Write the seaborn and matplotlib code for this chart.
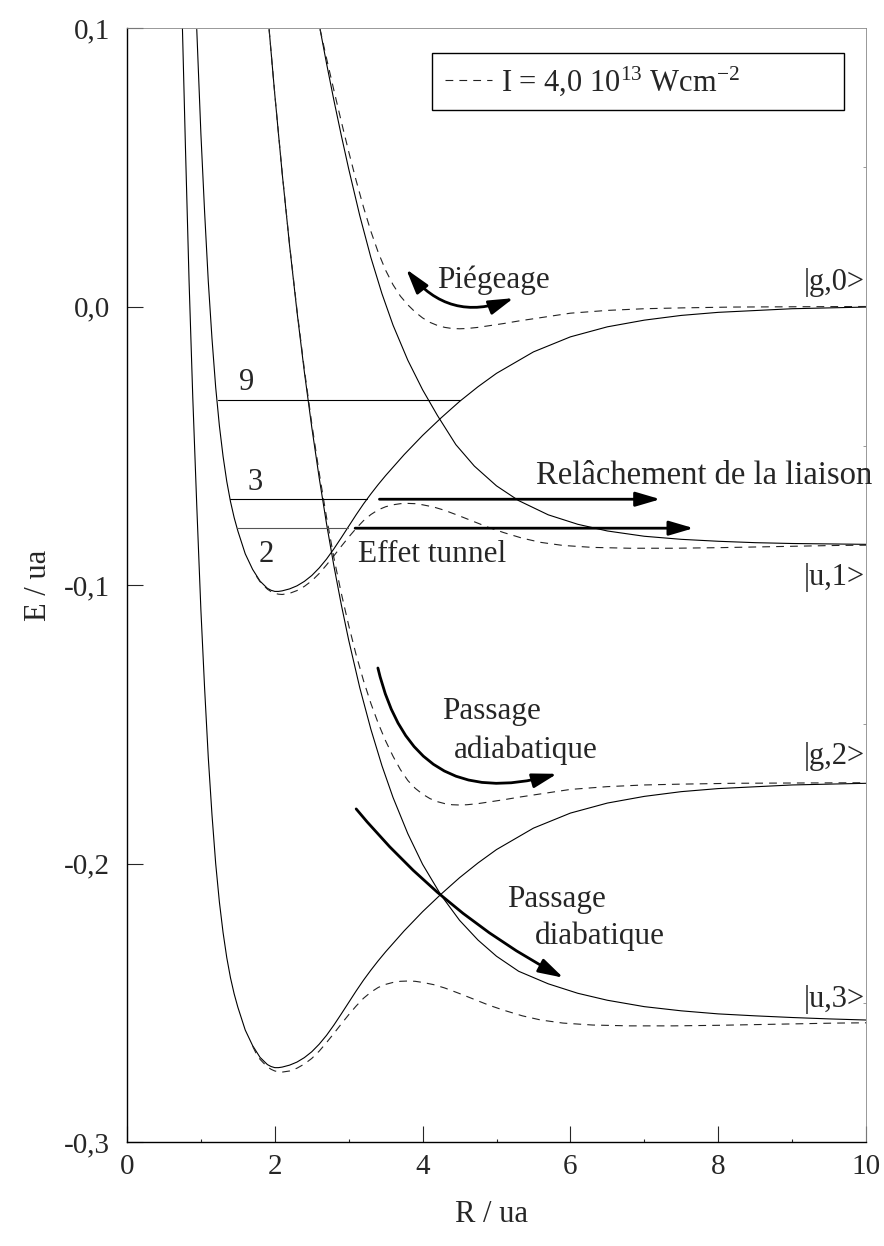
import matplotlib
matplotlib.use('Agg')
import matplotlib.pyplot as plt
from matplotlib.lines import Line2D
from matplotlib.ticker import FixedLocator, MultipleLocator
import seaborn as sns

# diabatic (photon-dressed) curves
R_g0 = [0.944, 0.97, 1.00, 1.05, 1.10, 1.15, 1.20, 1.25, 1.30, 1.35, 1.40, 1.45, 1.50, 1.60, 1.70, 1.80,
        1.90, 1.95, 2.00, 2.05, 2.10, 2.20, 2.30, 2.40, 2.50, 2.60, 2.70, 2.80, 2.90, 3.00, 3.10, 3.20,
        3.30, 3.40, 3.50, 3.75, 4.00, 4.25, 4.50, 4.75, 5.00, 5.50, 6.00, 6.50, 7.00, 7.50, 8.00, 9.00, 10.0]
E_g0 = [0.0995, 0.082, 0.062, 0.034, 0.009, -0.0115, -0.0290, -0.0428, -0.0538, -0.0628, -0.0700, -0.0758,
        -0.0806, -0.0888, -0.0944, -0.0986, -0.1012, -0.1019, -0.1023, -0.1023, -0.1021, -0.1014, -0.1003,
        -0.0987, -0.0966, -0.0939, -0.0907, -0.0870, -0.0830, -0.0789, -0.0748, -0.0709, -0.0673, -0.0639,
        -0.0607, -0.0532, -0.0463, -0.0400, -0.0341, -0.0288, -0.0240, -0.0163, -0.0109, -0.0073, -0.0049,
        -0.0032, -0.0021, -0.0008, -0.0002]

R_g2 = [0.75, 0.79, 0.84, 0.89, 0.944, 0.97, 1.00, 1.05, 1.10, 1.15, 1.20, 1.25, 1.30, 1.35, 1.40, 1.45,
        1.50, 1.60, 1.70, 1.80, 1.90, 1.95, 2.00, 2.05, 2.10, 2.20, 2.30, 2.40, 2.50, 2.60, 2.70, 2.80,
        2.90, 3.00, 3.10, 3.20, 3.30, 3.40, 3.50, 3.75, 4.00, 4.25, 4.50, 4.75, 5.00, 5.50, 6.00, 6.50,
        7.00, 7.50, 8.00, 9.00, 10.0]
E_g2 = [0.1000, 0.0580, 0.0090, -0.0326, -0.0715, -0.0890, -0.1090, -0.1370, -0.1620, -0.1825, -0.2000,
        -0.2138, -0.2248, -0.2338, -0.2410, -0.2468, -0.2516, -0.2598, -0.2654, -0.2696, -0.2722, -0.2729,
        -0.2733, -0.2733, -0.2731, -0.2724, -0.2713, -0.2697, -0.2676, -0.2649, -0.2617, -0.2580, -0.2540,
        -0.2499, -0.2458, -0.2419, -0.2383, -0.2349, -0.2317, -0.2242, -0.2173, -0.2110, -0.2051, -0.1998,
        -0.1950, -0.1873, -0.1819, -0.1783, -0.1759, -0.1742, -0.1731, -0.1718, -0.1712]

R_u1 = [2.613, 2.70, 2.80, 2.90, 3.00, 3.15, 3.30, 3.45, 3.60, 3.80, 4.00, 4.20, 4.45, 4.70, 5.00, 5.30,
        5.70, 6.10, 6.50, 7.00, 7.50, 8.00, 8.50, 9.00, 10.0]
E_u1 = [0.0995, 0.0873, 0.0740, 0.0614, 0.0494, 0.0326, 0.0176, 0.0046, -0.0067, -0.0193, -0.0299, -0.0391,
        -0.0496, -0.0573, -0.0644, -0.0697, -0.0748, -0.0782, -0.0806, -0.0825, -0.0836, -0.0843, -0.0848,
        -0.0851, -0.0854]

R_u3 = [1.923, 2.00, 2.10, 2.20, 2.30, 2.40, 2.50, 2.60, 2.70, 2.80, 2.90, 3.00, 3.15, 3.30, 3.45, 3.60,
        3.80, 4.00, 4.25, 4.50, 4.75, 5.00, 5.30, 5.70, 6.10, 6.50, 7.00, 7.50, 8.00, 8.50, 9.00, 9.50, 10.0]
E_u3 = [0.0995, 0.0761, 0.0478, 0.0219, -0.0018, -0.0235, -0.0433, -0.0614, -0.0780, -0.0932, -0.1071,
        -0.1198, -0.1369, -0.1518, -0.1649, -0.1763, -0.1893, -0.2003, -0.2114, -0.2204, -0.2275, -0.2333,
        -0.2387, -0.2432, -0.2466, -0.2491, -0.2514, -0.2529, -0.2540, -0.2547, -0.2553, -0.2558, -0.2562]

# adiabatic curves at I = 4.0e13 W/cm2 (dashed)
R_d1 = [2.613, 2.70, 2.80, 2.90, 3.00, 3.10, 3.20, 3.30, 3.40, 3.50, 3.60, 3.70, 3.80, 3.90, 4.00, 4.10,
        4.20, 4.30, 4.40, 4.50, 4.60, 4.75, 4.90, 5.10, 5.30, 5.60, 6.00, 6.50, 7.00, 7.50, 8.20, 9.00, 10.0]
E_d1 = [0.0995, 0.0891, 0.0776, 0.0664, 0.0556, 0.0453, 0.0357, 0.0270, 0.0194, 0.0130, 0.0078, 0.0037,
        0.0006, -0.0020, -0.0041, -0.0057, -0.0068, -0.0075, -0.0079, -0.0080, -0.0079, -0.0075, -0.0069,
        -0.0061, -0.0052, -0.0040, -0.0024, -0.0014, -0.0008, -0.0005, -0.0002, -0.0001, 0.0]

R_d2 = [1.75, 1.80, 1.85, 1.90, 1.95, 2.00, 2.05, 2.10, 2.20, 2.30, 2.40, 2.50, 2.60, 2.70, 2.80, 2.90,
        3.00, 3.10, 3.20, 3.30, 3.40, 3.50, 3.60, 3.70, 3.80, 3.90, 4.00, 4.15, 4.30, 4.50, 4.70, 4.90,
        5.10, 5.35, 5.60, 5.90, 6.30, 6.80, 7.40, 8.00, 8.80, 9.60, 10.0]
E_d2 = [-0.0968, -0.0988, -0.1002, -0.1015, -0.1024, -0.1030, -0.1033, -0.1034, -0.1030, -0.1020, -0.1005,
        -0.0985, -0.0959, -0.0928, -0.0895, -0.0861, -0.0828, -0.0797, -0.0769, -0.0747, -0.0730, -0.0719,
        -0.0712, -0.0708, -0.0707, -0.0708, -0.0712, -0.0720, -0.0732, -0.0752, -0.0773, -0.0794, -0.0812,
        -0.0832, -0.0847, -0.0858, -0.0865, -0.0868, -0.0868, -0.0866, -0.0862, -0.0858, -0.0857]

R_d3 = [1.923, 2.00, 2.10, 2.20, 2.30, 2.40, 2.50, 2.60, 2.70, 2.80, 2.90, 3.00, 3.10, 3.20, 3.30, 3.40,
        3.50, 3.60, 3.70, 3.80, 3.90, 4.00, 4.10, 4.20, 4.30, 4.40, 4.50, 4.60, 4.75, 4.90, 5.10, 5.30,
        5.60, 6.00, 6.50, 7.00, 7.50, 8.20, 9.00, 10.0]
E_d3 = [0.0995, 0.0762, 0.0480, 0.0222, -0.0012, -0.0226, -0.0420, -0.0596, -0.0757, -0.0903, -0.1030,
        -0.1145, -0.1250, -0.1343, -0.1425, -0.1497, -0.1560, -0.1615, -0.1663, -0.1702, -0.1730, -0.1751,
        -0.1767, -0.1778, -0.1785, -0.1789, -0.1790, -0.1789, -0.1785, -0.1779, -0.1771, -0.1762, -0.1750,
        -0.1734, -0.1724, -0.1718, -0.1715, -0.1712, -0.1711, -0.1710]

R_d4 = [1.70, 1.75, 1.80, 1.85, 1.90, 1.95, 2.00, 2.05, 2.10, 2.20, 2.30, 2.40, 2.50, 2.60, 2.70, 2.80,
        2.90, 3.00, 3.10, 3.20, 3.30, 3.40, 3.50, 3.60, 3.70, 3.80, 3.90, 4.00, 4.15, 4.30, 4.50, 4.70,
        4.90, 5.10, 5.35, 5.60, 5.90, 6.30, 6.80, 7.40, 8.00, 8.80, 9.60, 10.0]
E_d4 = [-0.2656, -0.2683, -0.2703, -0.2717, -0.2730, -0.2739, -0.2745, -0.2748, -0.2749, -0.2745, -0.2735,
        -0.2720, -0.2700, -0.2674, -0.2643, -0.2610, -0.2576, -0.2543, -0.2512, -0.2484, -0.2462, -0.2445,
        -0.2434, -0.2427, -0.2423, -0.2422, -0.2423, -0.2427, -0.2435, -0.2447, -0.2467, -0.2488, -0.2509,
        -0.2527, -0.2547, -0.2562, -0.2573, -0.2580, -0.2583, -0.2583, -0.2581, -0.2577, -0.2573, -0.2572]

# vibrational levels of |g,0>
v_labels = ['9', '3', '2']
v_E = [-0.0335, -0.0691, -0.0794]
v_Rmin = [1.236, 1.395, 1.494]
v_Rmax = [4.509, 3.250, 2.988]
v_lab_R = [1.62, 1.733, 1.88]
v_lab_E = [-0.0274, -0.0633, -0.0892]

state_labels = ['|g,0>', '|u,1>', '|g,2>', '|u,3>']
state_E = [0.0085, -0.0974, -0.1617, -0.2489]

yticks = [-0.3, -0.2, -0.1, 0.0, 0.1]
ytick_labels = ['-0,3', '-0,2', '-0,1', '0,0', '0,1']
xticks = [0, 2, 4, 6, 8, 10]

sns.set_style('ticks')
plt.rcParams['font.family'] = ['Liberation Serif', 'DejaVu Serif']
plt.rcParams['mathtext.fontset'] = 'custom'
plt.rcParams['mathtext.rm'] = 'Liberation Serif'
plt.rcParams['mathtext.it'] = 'Liberation Serif:italic'

fig = plt.figure(figsize=(8.84, 12.46), dpi=100)
ax = fig.add_axes([127 / 884, 1 - 1142 / 1246, 739 / 884, 1114 / 1246])

dash = (0, (7, 5.5))
for R, E in [(R_g0, E_g0), (R_g2, E_g2), (R_u1, E_u1), (R_u3, E_u3)]:
    sns.lineplot(x=R, y=E, ax=ax, color='k', lw=0.8, sort=False, estimator=None)
for R, E in [(R_d1, E_d1), (R_d2, E_d2), (R_d3, E_d3), (R_d4, E_d4)]:
    sns.lineplot(x=R, y=E, ax=ax, color='#222222', lw=0.8, linestyle=dash, sort=False, estimator=None)

# vibrational levels
for lab, e, r0, r1, lr, le in zip(v_labels, v_E, v_Rmin, v_Rmax, v_lab_R, v_lab_E):
    col = '#555555' if lab == '2' else 'k'
    ax.plot([r0, r1], [e, e], color=col, lw=0.8)
    ax.text(lr, le, lab, fontsize=22, ha='center', va='center')

for lab, e in zip(state_labels, state_E):
    ax.text(9.98, e, lab, fontsize=22, ha='right', va='center')

# arrows
def arrow(start, end, rad=0.0, style='-|>'):
    ax.annotate('', xy=end, xytext=start,
                arrowprops=dict(arrowstyle=style + ',head_length=0.75,head_width=0.22',
                                lw=2.0, color='k', mutation_scale=20, shrinkA=0, shrinkB=0,
                                connectionstyle='arc3,rad=%s' % rad))

arrow((3.416, -0.0692), (7.217, -0.0692))
arrow((3.087, -0.0796), (7.668, -0.0796))
arrow((3.778, 0.0134), (5.231, 0.0030), rad=0.37, style='<|-|>')
arrow((3.395, -0.1298), (5.819, -0.1678), rad=0.52)
arrow((3.101, -0.1804), (5.904, -0.2410), rad=0.10)

fs = 22.5
ax.text(4.963, 0.0095, 'Piégeage', fontsize=fs, ha='center', va='center')
ax.text(7.813, -0.0608, 'Relâchement de la liaison', fontsize=23.5, ha='center', va='center', clip_on=False)
ax.text(4.13, -0.0892, 'Effet tunnel', fontsize=fs, ha='center', va='center')
ax.text(4.936, -0.1455, 'Passage', fontsize=fs, ha='center', va='center')
ax.text(5.396, -0.1592, 'adiabatique', fontsize=fs, ha='center', va='center')
ax.text(5.809, -0.2130, 'Passage', fontsize=fs, ha='center', va='center')
ax.text(6.405, -0.2263, 'diabatique', fontsize=fs, ha='center', va='center')

# legend box
h = Line2D([], [], color='#222222', lw=0.8, linestyle=dash)
leg = ax.legend([h], ['I = 4,0 10$^{13}$ Wcm$^{-2}$'], loc='upper left',
                bbox_to_anchor=(0.4131, 0.9286, 0.5575, 0.0494), mode='expand',
                borderaxespad=0, fancybox=False, frameon=True, edgecolor='k', framealpha=1,
                fontsize=22, handlelength=1.55, handletextpad=0.3, borderpad=0.4)
leg.get_frame().set_linewidth(1.0)

ax.set_xlim(0, 10)
ax.set_ylim(-0.3, 0.1)
ax.xaxis.set_major_locator(FixedLocator(xticks))
ax.xaxis.set_minor_locator(MultipleLocator(1))
ax.yaxis.set_major_locator(FixedLocator(yticks))
ax.yaxis.set_minor_locator(MultipleLocator(0.05))
ax.set_yticklabels(ytick_labels)
ax.set_xticklabels([str(t) for t in xticks])

ax.tick_params(which='major', direction='in', length=11.5, width=0.8, labelsize=21, pad=9,
               top=False, right=False)
ax.tick_params(axis='x', which='minor', direction='in', length=2, width=0.8, top=False)
ax.tick_params(axis='y', which='minor', direction='in', length=2, width=0.6, left=False, right=True,
               color='#888888')
ax.tick_params(axis='y', which='major', pad=12)

for s in ['left', 'bottom']:
    ax.spines[s].set_color('k')
    ax.spines[s].set_linewidth(1.0)
for s in ['top', 'right']:
    ax.spines[s].set_color('#888888')
    ax.spines[s].set_linewidth(0.6)

ax.set_xlabel('R / ua', fontsize=22)
ax.set_ylabel('E / ua', fontsize=22)
ax.xaxis.set_label_coords(0.493, -0.052)
ax.yaxis.set_label_coords(-0.10, 0.5)

fig.savefig('out.png', dpi=100)
